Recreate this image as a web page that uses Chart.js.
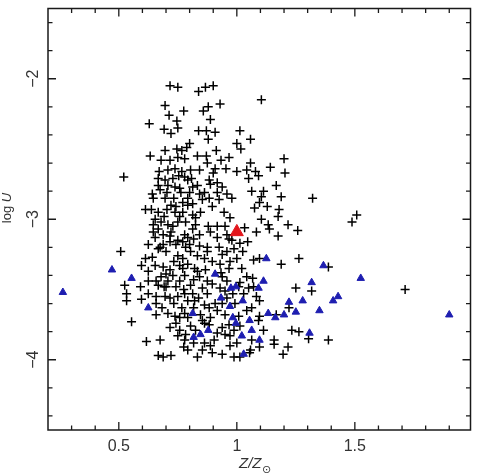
<!DOCTYPE html>
<html>
<head>
<meta charset="utf-8">
<script src="https://cdn.jsdelivr.net/npm/chart.js@4/dist/chart.umd.min.js"></script>
<style>
  html, body { margin: 0; padding: 0; background: #fff; }
  #wrap { width: 479px; height: 475px; }
</style>
</head>
<body>
<div id="wrap"><canvas id="chart"></canvas></div>
<script>
// Axis ranges and ticks
const xRange = [0.2, 1.99];
const yRange = [-4.5, -1.5];
const xMajorTicks = [0.5, 1.0, 1.5];
const xTickLabels = ['0.5', '1', '1.5'];
const xMinorTicks = [0.3, 0.4, 0.6, 0.7, 0.8, 0.9, 1.1, 1.2, 1.3, 1.4, 1.6, 1.7, 1.8, 1.9];
const yMajorTicks = [-4, -3, -2];
const yTickLabels = ['\u22124', '\u22123', '\u22122'];
const yMinorTicks = [-4.4, -4.2, -3.8, -3.6, -3.4, -3.2, -2.8, -2.6, -2.4, -2.2, -1.8, -1.6];

// Data: [Z/Zsun, log U]
const redPoints = [[1.00, -3.09]];

const bluePoints = [
  [0.263, -3.52], [0.471, -3.36], [0.554, -3.42], [0.625, -3.63], [0.813, -3.67],
  [0.817, -3.84], [0.846, -3.82], [0.879, -3.79], [0.908, -3.39], [0.975, -3.49],
  [0.996, -3.48], [0.933, -3.56], [0.971, -3.62], [0.983, -3.70], [0.996, -3.74],
  [1.025, -3.58], [1.054, -3.72], [1.063, -3.79], [1.021, -3.83], [1.029, -3.96],
  [1.092, -3.49], [1.113, -3.44], [1.125, -3.28], [1.096, -3.86], [1.133, -3.67],
  [1.163, -3.70], [1.200, -3.68], [1.221, -3.59], [1.250, -3.66], [1.279, -3.58],
  [1.317, -3.45], [1.308, -3.81], [1.350, -3.65], [1.367, -3.33], [1.408, -3.58],
  [1.429, -3.55], [1.525, -3.42], [1.900, -3.68]
];

const crossPoints = [
  [0.717, -2.05], [0.750, -2.06], [0.838, -2.09], [0.867, -2.06], [0.900, -2.05],
  [1.104, -2.15], [0.696, -2.19], [0.775, -2.23], [0.713, -2.26], [0.858, -2.23],
  [0.879, -2.20], [0.929, -2.18], [0.629, -2.32], [0.746, -2.30], [0.888, -2.29],
  [0.692, -2.36], [0.750, -2.35], [0.721, -2.39], [0.838, -2.37], [0.871, -2.37],
  [0.908, -2.38], [0.879, -2.43], [1.013, -2.37], [1.058, -2.43], [1.000, -2.46],
  [0.800, -2.46], [1.017, -2.50], [0.696, -2.51], [0.746, -2.50], [0.767, -2.51],
  [0.788, -2.49], [0.633, -2.55], [0.679, -2.58], [0.717, -2.58], [0.750, -2.56],
  [0.779, -2.57], [0.833, -2.55], [0.871, -2.55], [0.913, -2.51], [0.933, -2.58],
  [0.875, -2.60], [0.967, -2.56], [0.521, -2.70], [1.200, -2.57], [1.058, -2.60],
  [1.142, -2.63], [1.204, -2.67], [1.000, -2.66], [1.042, -2.65], [1.079, -2.66],
  [1.092, -2.69], [1.050, -2.71], [0.671, -2.66], [0.708, -2.65], [0.738, -2.64],
  [0.767, -2.66], [0.804, -2.65], [0.842, -2.65], [0.908, -2.64], [0.954, -2.64],
  [0.900, -2.67], [0.667, -2.71], [0.696, -2.72], [0.729, -2.71], [0.754, -2.69],
  [0.779, -2.70], [0.792, -2.72], [0.808, -2.71], [0.883, -2.72], [0.833, -2.76],
  [0.888, -2.75], [0.917, -2.74], [0.938, -2.77], [1.167, -2.76], [1.063, -2.80],
  [1.113, -2.80], [1.188, -2.84], [1.104, -2.84], [1.321, -2.85], [1.096, -2.88],
  [1.075, -2.92], [1.129, -2.91], [1.179, -2.93], [1.175, -2.98], [1.104, -3.00],
  [1.133, -3.04], [1.138, -3.07], [1.217, -3.04], [1.258, -3.08], [1.083, -3.09],
  [1.033, -3.06], [1.175, -3.12], [1.508, -2.97], [1.488, -3.02], [0.971, -2.99],
  [0.642, -2.82], [0.675, -2.79], [0.704, -2.81], [0.738, -2.77], [0.763, -2.81],
  [0.800, -2.81], [0.863, -2.81], [0.917, -2.81], [0.958, -2.82], [0.646, -2.85],
  [0.696, -2.85], [0.733, -2.85], [0.771, -2.88], [0.792, -2.90], [0.813, -2.89],
  [0.883, -2.85], [0.925, -2.86], [0.979, -2.85], [0.613, -2.93], [0.638, -2.93],
  [0.667, -2.95], [0.704, -2.93], [0.738, -2.95], [0.771, -2.95], [0.813, -2.97],
  [0.846, -2.95], [0.896, -2.91], [0.946, -2.95], [0.646, -3.04], [0.679, -3.02],
  [0.708, -3.04], [0.750, -3.02], [0.783, -3.02], [0.825, -3.04], [0.879, -3.05],
  [0.917, -3.05], [0.950, -3.05], [0.646, -3.09], [0.688, -3.11], [0.721, -3.09],
  [0.779, -3.11], [0.842, -3.11], [0.888, -3.09], [0.958, -3.11], [0.758, -2.78],
  [0.758, -2.98], [0.825, -2.99], [0.729, -3.05], [0.813, -3.07], [0.792, -3.13],
  [0.721, -2.90], [0.842, -2.82], [0.742, -2.91], [0.654, -3.13], [0.688, -3.18],
  [0.717, -3.16], [0.742, -3.18], [0.771, -3.16], [0.800, -3.18], [0.842, -3.19],
  [0.875, -3.20], [0.925, -3.20], [0.979, -3.15], [1.013, -3.17], [1.046, -3.16],
  [0.508, -3.23], [0.613, -3.28], [0.642, -3.27], [0.675, -3.20], [0.700, -3.23],
  [0.750, -3.26], [0.804, -3.23], [0.833, -3.26], [0.875, -3.23], [0.958, -3.23],
  [0.988, -3.21], [1.025, -3.23], [0.596, -3.33], [0.654, -3.33], [0.688, -3.34],
  [0.717, -3.36], [0.771, -3.35], [0.792, -3.32], [0.821, -3.35], [0.867, -3.36],
  [0.863, -3.28], [0.771, -3.28], [0.625, -3.37], [0.929, -3.32], [0.967, -3.35],
  [1.000, -3.28], [0.938, -3.25], [0.917, -3.13], [1.071, -3.29], [1.096, -3.28],
  [0.971, -3.30], [1.263, -3.28], [1.188, -3.32], [1.388, -3.34], [0.967, -3.14],
  [0.933, -3.38], [1.042, -3.41], [1.067, -3.42], [0.679, -3.41], [0.708, -3.44],
  [0.758, -3.44], [0.804, -3.47], [0.842, -3.41], [0.875, -3.44], [0.938, -3.41],
  [0.958, -3.44], [0.592, -3.48], [0.667, -3.47], [0.700, -3.48], [0.742, -3.48],
  [0.854, -3.49], [0.929, -3.49], [1.008, -3.48], [1.050, -3.49], [0.658, -3.55],
  [0.717, -3.56], [0.750, -3.55], [0.792, -3.58], [0.863, -3.61], [0.883, -3.63],
  [0.958, -3.56], [1.063, -3.63], [1.096, -3.58], [0.658, -3.68], [0.738, -3.69],
  [0.779, -3.67], [0.846, -3.68], [0.888, -3.70], [0.950, -3.68], [1.096, -3.69],
  [0.717, -3.77], [0.758, -3.79], [0.804, -3.76], [0.917, -3.81], [0.967, -3.75],
  [1.013, -3.76], [1.113, -3.79], [0.617, -3.87], [0.675, -3.86], [0.779, -3.86],
  [0.863, -3.88], [0.904, -3.86], [0.950, -3.82], [1.063, -3.86], [0.792, -3.93],
  [0.854, -3.93], [0.896, -3.95], [0.938, -3.96], [0.667, -3.97], [0.688, -3.98],
  [0.721, -3.97], [0.988, -3.98], [1.054, -3.95], [1.013, -3.45], [1.071, -3.48],
  [1.083, -3.55], [1.250, -3.49], [1.317, -3.51], [1.713, -3.50], [1.042, -3.65],
  [1.008, -3.69], [1.092, -3.72], [1.221, -3.63], [1.167, -3.68], [0.988, -3.79],
  [1.233, -3.79], [1.263, -3.80], [1.304, -3.85], [1.388, -3.86], [1.158, -3.86],
  [1.158, -3.89], [1.217, -3.91], [1.096, -3.91], [1.058, -3.93], [0.971, -3.83],
  [0.971, -3.90], [1.013, -3.98], [1.196, -3.96], [0.525, -3.47], [0.533, -3.53],
  [0.533, -3.58], [0.554, -3.73], [0.658, -3.44], [0.896, -3.46], [0.875, -3.53],
  [0.696, -3.55], [0.658, -3.60], [0.779, -3.53], [0.821, -3.58], [0.908, -3.60],
  [0.950, -3.51], [0.758, -3.70], [0.863, -3.74], [0.750, -3.83], [0.783, -3.82],
  [1.000, -3.88],
  [0.654, -3.00], [0.667, -3.07], [0.692, -2.98], [0.717, -3.12], [0.750, -3.15],
  [0.783, -3.20], [0.817, -3.14], [0.733, -3.30], [0.758, -3.33], [0.700, -3.39],
  [0.729, -3.40], [0.779, -3.40], [0.817, -3.43], [0.775, -3.50], [0.813, -3.53],
  [0.838, -3.56], [0.733, -3.60], [0.767, -3.63], [0.817, -3.63], [0.854, -3.72],
  [0.792, -3.70], [0.742, -3.74], [0.825, -3.79], [0.883, -3.75], [0.917, -3.65],
  [0.692, -3.48], [0.625, -3.44], [0.596, -3.57], [0.625, -3.53], [0.683, -3.63],
  [0.708, -3.67], [0.775, -3.91], [0.833, -3.98], [0.888, -3.90], [0.817, -3.88],
  [0.938, -3.77], [0.938, -3.60], [0.992, -3.60], [0.983, -3.53], [1.029, -3.53],
  [1.021, -3.35], [0.896, -3.30], [0.833, -3.37], [0.667, -3.21], [0.625, -3.18],
  [0.854, -2.86], [0.792, -2.85], [0.708, -2.76], [0.667, -2.76], [0.813, -2.77]
];

const toXY = pts => pts.map(p => ({ x: p[0], y: p[1] }));

// Frame, inward ticks on all four sides, and the rotated labels
const frameAxes = {
  id: 'frameAxes',
  afterDatasetsDraw(chart) {
    const { ctx, chartArea: a, scales: { x, y } } = chart;
    ctx.save();
    ctx.strokeStyle = '#1a1a1a';
    ctx.lineWidth = 1.5;
    ctx.strokeRect(a.left, a.top, a.right - a.left, a.bottom - a.top);

    ctx.lineWidth = 1.3;
    ctx.beginPath();
    const xTick = (v, len) => {
      const px = x.getPixelForValue(v);
      ctx.moveTo(px, a.bottom); ctx.lineTo(px, a.bottom - len);
      ctx.moveTo(px, a.top); ctx.lineTo(px, a.top + len);
    };
    const yTick = (v, len) => {
      const py = y.getPixelForValue(v);
      ctx.moveTo(a.left, py); ctx.lineTo(a.left + len, py);
      ctx.moveTo(a.right, py); ctx.lineTo(a.right - len, py);
    };
    xMajorTicks.forEach(v => xTick(v, 8));
    xMinorTicks.forEach(v => xTick(v, 4.5));
    yMajorTicks.forEach(v => yTick(v, 8));
    yMinorTicks.forEach(v => yTick(v, 4.5));
    ctx.stroke();

    // Tick labels
    ctx.fillStyle = '#333';
    ctx.font = '16px "Liberation Sans", Arial, sans-serif';
    ctx.textAlign = 'center';
    ctx.textBaseline = 'alphabetic';
    xMajorTicks.forEach((v, i) => {
      ctx.fillText(xTickLabels[i], x.getPixelForValue(v), 451);
    });
    yMajorTicks.forEach((v, i) => {
      ctx.save();
      ctx.translate(38, y.getPixelForValue(v));
      ctx.rotate(-Math.PI / 2);
      ctx.fillText(yTickLabels[i], 0, 0);
      ctx.restore();
    });

    // Y axis title: log U
    ctx.save();
    ctx.translate(11, 208);
    ctx.rotate(-Math.PI / 2);
    ctx.textAlign = 'left';
    ctx.font = '13px "Liberation Sans", Arial, sans-serif';
    const logW = ctx.measureText('log ').width;
    ctx.font = 'italic 13px "Liberation Sans", Arial, sans-serif';
    const uW = ctx.measureText('U').width;
    const start = -(logW + uW) / 2;
    ctx.font = '13px "Liberation Sans", Arial, sans-serif';
    ctx.fillText('log ', start, 0);
    ctx.font = 'italic 13px "Liberation Sans", Arial, sans-serif';
    ctx.fillText('U', start + logW, 0);
    ctx.restore();

    // X axis title: Z/Z_sun
    ctx.textAlign = 'left';
    ctx.font = 'italic 15px "Liberation Sans", Arial, sans-serif';
    ctx.fillText('Z/Z', 239, 468);
    const zw = ctx.measureText('Z/Z').width;
    ctx.font = '11px "DejaVu Sans", sans-serif';
    ctx.fillText('\u2299', 239 + zw + 0.5, 473);
    ctx.restore();
  }
};

new Chart(document.getElementById('chart'), {
  type: 'scatter',
  data: {
    datasets: [
      {
        label: 'red',
        data: toXY(redPoints),
        pointStyle: 'triangle',
        pointRadius: 7.5,
        backgroundColor: '#e3161c',
        borderColor: '#e3161c',
        borderWidth: 1
      },
      {
        label: 'blue',
        data: toXY(bluePoints),
        pointStyle: 'triangle',
        pointRadius: 4.3,
        backgroundColor: '#1e1eb0',
        borderColor: '#1e1eb0',
        borderWidth: 1
      },
      {
        label: 'cross',
        data: toXY(crossPoints),
        pointStyle: 'cross',
        pointRadius: 4.5,
        borderColor: '#000',
        borderWidth: 1.5
      }
    ]
  },
  options: {
    responsive: true,
    maintainAspectRatio: false,
    animation: false,
    layout: { padding: { left: 48, right: 2, top: 1, bottom: 45 } },
    plugins: { legend: { display: false }, tooltip: { enabled: false } },
    scales: {
      x: { type: 'linear', min: xRange[0], max: xRange[1], display: false },
      y: { type: 'linear', min: yRange[0], max: yRange[1], display: false }
    }
  },
  plugins: [frameAxes]
});
</script>
</body>
</html>
